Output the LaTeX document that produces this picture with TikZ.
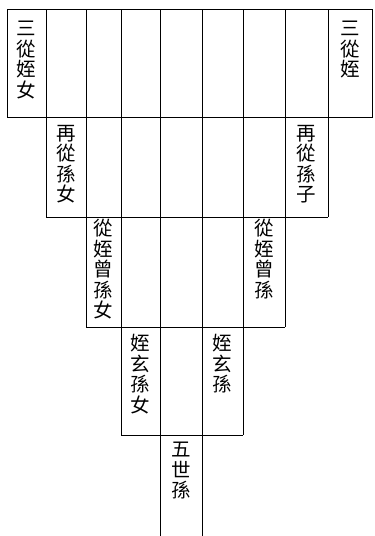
\documentclass[tikz,border=0pt]{standalone}
\usepackage{fontspec}
\newfontfamily\cjk{Noto Sans CJK TC}[BoldFont={Noto Sans CJK TC Bold}]
\begin{document}
\begin{tikzpicture}[x=1pt,y=-1pt,
  grid/.style={draw=black,line width=0.8pt},
  vtext/.style={font=\cjk\fontsize{19.5}{20.5}\selectfont,align=center,inner sep=0pt,anchor=north}]
\useasboundingbox (0,0) rectangle (375,536);
% column boundaries
\def\xa{7}\def\xb{46}\def\xc{86}\def\xd{121}\def\xe{160}
\def\xf{202}\def\xg{243}\def\xh{285}\def\xi{328}\def\xj{372}
% row 1 frame
\draw[grid] (\xa,9) rectangle (\xj,117);
% verticals
\draw[grid] (\xb,9) -- (\xb,217);
\draw[grid] (\xi,9) -- (\xi,217);
\draw[grid] (\xc,9) -- (\xc,327);
\draw[grid] (\xh,9) -- (\xh,327);
\draw[grid] (\xd,9) -- (\xd,435);
\draw[grid] (\xg,9) -- (\xg,435);
\draw[grid] (\xe,9) -- (\xe,536);
\draw[grid] (\xf,9) -- (\xf,536);
% horizontals
\draw[grid] (\xb,217) -- (\xi,217);
\draw[grid] (\xc,327) -- (\xh,327);
\draw[grid] (\xd,435) -- (\xg,435);
% texts
\node[vtext] (a1) at ({(\xa+\xb)/2},21) {三\\從\\姪\\女};
\node[vtext] (a2) at ({(\xi+\xj)/2},21) {三\\從\\姪};
\node[vtext] (b1) at ({(\xb+\xc)/2},125) {再\\從\\孫\\女};
\node[vtext] (b2) at ({(\xh+\xi)/2},125) {再\\從\\孫\\子};
\node[vtext] (c1) at ({(\xc+\xd)/2},219) {從\\姪\\曾\\孫\\女};
\node[vtext] (c2) at ({(\xg+\xh)/2},219) {從\\姪\\曾\\孫};
\node[vtext] (d1) at ({(\xd+\xe)/2},334) {姪\\玄\\孫\\女};
\node[vtext] (d2) at ({(\xf+\xg)/2},334) {姪\\玄\\孫};
\node[vtext] (e1) at ({(\xe+\xf)/2},442) {五\\世\\孫};
\end{tikzpicture}
\end{document}
